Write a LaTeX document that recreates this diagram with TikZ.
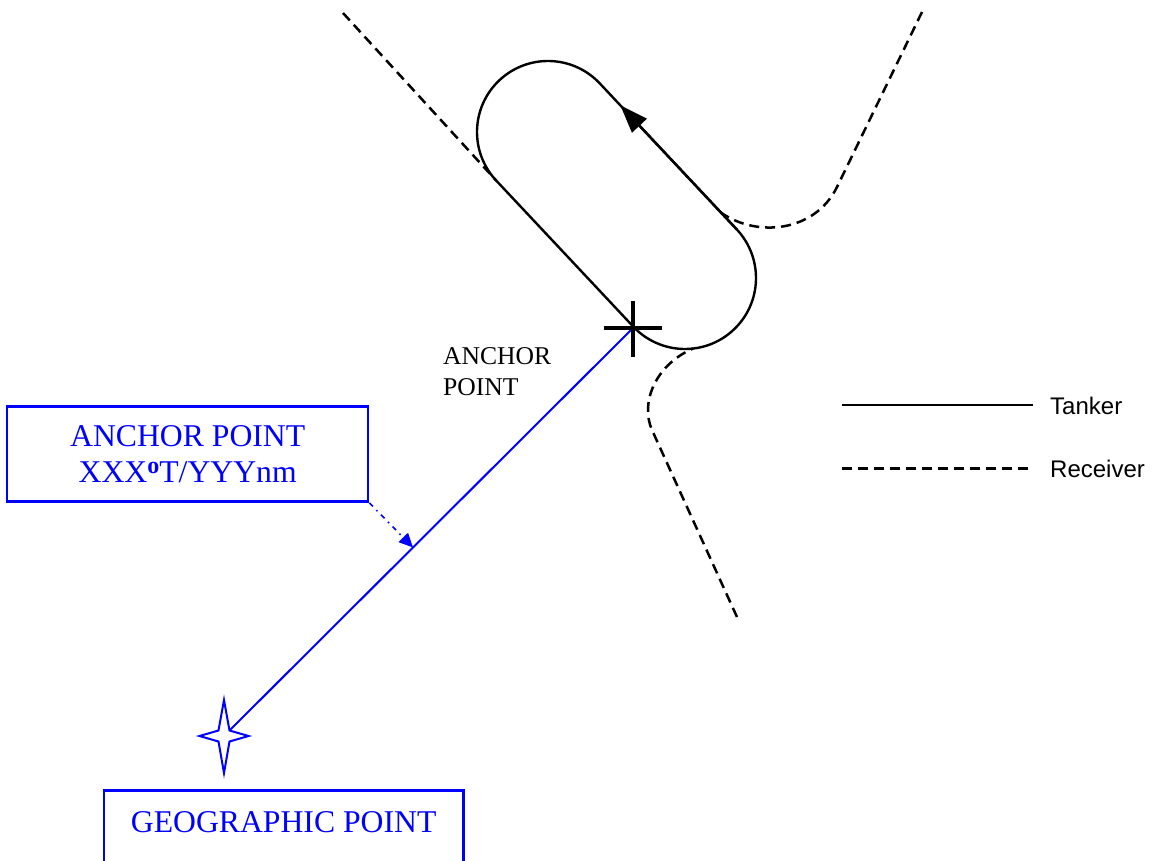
\documentclass[tikz,border=0pt]{standalone}
\usepackage{fontspec}
\setmainfont{Liberation Serif}
\newfontfamily\legendfont{Liberation Sans}
\usetikzlibrary{arrows.meta,calc}
\definecolor{myblue}{RGB}{0,0,255}
\begin{document}
\begin{tikzpicture}[x=1pt,y=-1pt,
  tanker/.style={line width=2.4pt,black},
  receiver/.style={line width=2.5pt,black,dash pattern=on 10pt off 6pt},
  blueline/.style={line width=2pt,myblue},
  bluebox/.style={draw=myblue,line width=2.5pt},
  bluetext/.style={text=myblue,font=\fontsize{31.7}{36.5}\selectfont},
  blacktext/.style={font=\fontsize{25.6}{30.7}\selectfont,inner sep=0pt},
  legtext/.style={font=\legendfont\fontsize{24}{28}\selectfont,inner sep=0pt}
]
\useasboundingbox (0,0) rectangle (1158,861);
\clip (0,0) rectangle (1158,861);

% racetrack geometry
\coordinate (B) at (685,278);
\coordinate (A) at (548,132);
\coordinate (L1) at ($(B)+(136.8:71)$);
\coordinate (L2) at ($(A)+(136.8:71)$);
\coordinate (R2) at ($(A)+(316.8:71)$);
\coordinate (R1) at ($(B)+(316.8:71)$);

% receiver tracks
\coordinate (D1s) at (343,13);
\draw[receiver] (D1s) -- (L2);
\coordinate (D2s) at (922,12);
\coordinate (D2k) at (837,187);
\coordinate (D2e) at ($(R1)!0.115!(R2)$);
\draw[receiver] (D2s) -- (D2k) .. controls (815,232) and (757,238) .. (D2e);
\coordinate (D3s) at (737,617);
\coordinate (D3k) at (652,430);
\coordinate (D3e) at ($(B)+(83.5:71)$);
\draw[receiver] (D3s) -- (D3k) .. controls (640,403) and (655,365) .. (D3e);

% tanker track
\draw[tanker] (L1) -- (L2) arc[start angle=136.8,end angle=316.8,radius=71]
  -- (R1) arc[start angle=316.8,end angle=496.8,radius=71] -- cycle;
\draw[tanker,-{Triangle[length=28pt,width=20pt]}] (R1) -- ($(R2)!0.15!(R1)$);

% blue bearing line and geographic point star
\coordinate (AP) at (633,328);
\coordinate (SI) at (229.5,730.5);
\draw[blueline] (SI) -- (AP);
\draw[blueline,line join=miter] (224,700) -- (SI) -- (248.5,736) -- (229.5,741.5)
  -- (224,773) -- (218.5,741.5) -- (199.5,736) -- (218.5,730.5) -- cycle;

% anchor cross
\draw[line width=3.3pt] ($(AP)+(-29,0)$) -- ($(AP)+(29,0)$);
\draw[line width=3.3pt] ($(AP)+(0,-27)$) -- ($(AP)+(0,29)$);

% labels
\node[blacktext,anchor=base west] (ap1) at (443,364.3) {ANCHOR};
\node[blacktext,anchor=base west] (ap2) at (443,395) {POINT};

\node[bluebox,bluetext,minimum width=361pt,minimum height=95pt,inner sep=0pt,align=center]
  (box1) at (187.7,454.2) {ANCHOR POINT\\XXX{\fontsize{24}{24}\selectfont\raisebox{9pt}{\textbf{o}}}T/YYYnm};
\coordinate (TIP) at ($(SI)!0.4548!(AP)$);
\draw[myblue,line width=1.6pt,dash pattern=on 5pt off 5pt on 1.5pt off 5pt,
  -{Triangle[length=14pt,width=13pt]}] (box1.south east) -- (TIP);

\draw[bluebox] (104,790.7) rectangle (463.3,900);
\node[bluetext,anchor=base,inner sep=0pt] (geo) at (283.7,832.7) {GEOGRAPHIC POINT};

% legend
\coordinate (lg1a) at (842,405);
\coordinate (lg1b) at (1033,405);
\coordinate (lg2a) at (842,468.3);
\coordinate (lg2b) at (1033,468.3);
\draw[tanker] (lg1a) -- (lg1b);
\draw[receiver] (lg2a) -- (lg2b);
\node[legtext,anchor=base west] (tk) at (1050,414.3) {Tanker};
\node[legtext,anchor=base west] (rc) at (1050,477.7) {Receiver};
\end{tikzpicture}
\end{document}
